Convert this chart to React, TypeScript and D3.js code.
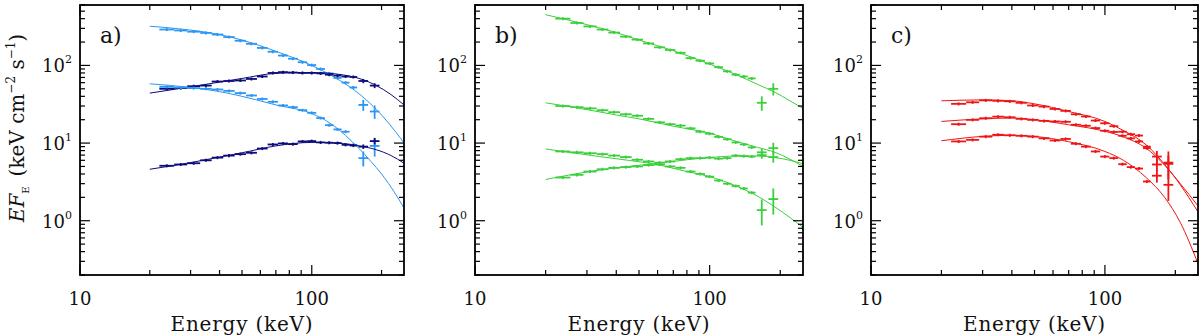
import React from 'react';
import * as d3 from 'd3';

// canvas + frame geometry
const W = 1200;
const H = 336;
const PLOT_TOP = 5;
const PLOT_BOTTOM = 275;
const PANEL_LEFT = [80, 475, 871];
const PANEL_RIGHT = [404, 803, 1198];
const PANEL_NAMES = ['a)', 'b)', 'c)'];

const X_DOMAIN = [10, 250];
const Y_DOMAIN = [0.2, 600];

// energy bins (keV) shared by all spectra, plus the two wide high-energy bins
const BIN_EDGES = [22, 25.5, 29, 33, 37, 41.5, 46.5, 52, 58, 64.5, 71.5, 79, 87, 95.5, 104.5, 114, 124, 134.5, 145.5, 157];
const HI_EDGES = [[159, 175], [178, 196]];
const BIN_ERR = 0.045; // relative flux error of the narrow bins

const LIGHT_BLUE = '#2b97f2';
const NAVY = '#0c0c7a';
const GREEN = '#3ccf3c';
const RED = '#f01414';

// ---- panel a ----
const a1Model = [[20, 320], [30, 285], [40, 250], [50, 212], [70, 152], [100, 100], [130, 66], [150, 50], [170, 37], [200, 23], [230, 14], [250, 10]];
const a1Bins = [290, 282, 272, 262, 250, 232, 208, 190, 168, 150, 134, 122, 110, 101, 90, 79, 69, 60, 52];
const a1Hi = [[31, 5], [25.5, 5]];

const a2Model = [[20, 44], [30, 53], [40, 61], [50, 68], [70, 79], [100, 81], [130, 77], [160, 68], [190, 55], [220, 42], [250, 31]];
const a2Bins = [50, 51, 54, 55, 62, 63, 64, 67, 72, 80, 82, 81, 80, 80, 79, 76, 74, 72, 71];
const a2Hi = [[63, 4], [55, 4]];

const a3Model = [[20, 58], [30, 52], [40, 46], [50, 40], [70, 31], [100, 24], [120, 18], [140, 12.5], [160, 8.5], [180, 5.8], [200, 4], [230, 2.2], [250, 1.46]];
const a3Bins = [53, 52, 51, 50, 49, 47, 44, 41, 37, 34, 30.5, 29, 26.5, 24.5, 21, 17, 15, 14, 9.5];
const a3Hi = [[6.4, 1.4], [9.2, 2.5]];

const a4Model = [[20, 4.6], [30, 5.6], [40, 6.6], [50, 7.5], [70, 9.2], [100, 10.2], [130, 10], [160, 9.2], [190, 8.2], [220, 6.9], [250, 5.5]];
const a4Bins = [5.1, 5.3, 5.5, 6.0, 6.5, 6.9, 7.2, 7.5, 8.5, 9.6, 9.9, 9.7, 10.5, 10.6, 10.2, 10.1, 10.0, 9.5, 9.3];
const a4Hi = [[9.0, 0.6], [10.6, 1.0]];

// ---- panel b ----
const b1Model = [[20, 450], [30, 335], [40, 265], [50, 212], [70, 155], [100, 104], [130, 76], [160, 57], [190, 45], [220, 35], [250, 28]];
const b1Bins = [400, 352, 318, 290, 265, 235, 215, 192, 171, 158, 145, 124, 115, 106, 95, 84, 76, 72, 68];
const b1Hi = [[33, 7], [50, 9]];

const b2Model = [[20, 33], [30, 27], [40, 23], [50, 20.5], [70, 16.5], [100, 13.4], [130, 10.5], [160, 8.8], [190, 7.6], [220, 6.2], [250, 5.0]];
const b2Bins = [30, 29, 28, 26.5, 25, 23.5, 22.5, 20.5, 18.5, 17.5, 16.8, 15.5, 14, 13.2, 12, 11.2, 10.2, 9.6, 8.8];
const b2Hi = [[7.6, 0.8], [8.6, 1.5]];

const b3Model = [[20, 8.4], [34, 6.7], [45, 6.0], [57.5, 5.4], [80, 4.3], [100, 3.7], [126, 2.9], [150, 2.3], [190, 1.5], [220, 1.1], [250, 0.82]];
const b3Bins = [7.8, 7.6, 7.4, 7.2, 6.9, 6.6, 6.1, 5.8, 5.3, 5.0, 4.8, 4.3, 4.0, 3.7, 3.3, 3.0, 2.8, 2.6, 2.3];
const b3Hi = [[1.37, 0.5], [1.9, 0.7]];

const b4Model = [[20, 3.4], [34, 4.5], [45, 5.0], [57.5, 5.4], [80, 6.1], [100, 6.5], [130, 6.8], [160, 6.8], [190, 6.5], [220, 6.0], [250, 5.4]];
const b4Bins = [3.6, 3.9, 4.3, 4.6, 4.8, 4.9, 5.0, 5.2, 5.6, 5.8, 6.2, 6.4, 6.4, 6.5, 6.3, 6.4, 6.9, 6.8, 6.7];
const b4Hi = [[7.0, 0.7], [6.6, 1.0]];

// ---- panel c ----
const c1Model = [[20, 35], [30, 36], [40, 35], [50, 32], [70, 25.5], [100, 19], [120, 14.5], [150, 9.5], [180, 5.3], [210, 2.9], [250, 1.3]];
const c1Bins = [32, 33.5, 35.5, 35, 34.5, 33, 30.5, 29.5, 27.5, 26, 23.5, 22, 19.5, 18, 16.5, 14, 13, 12.5, 9.0];
const c1Hi = [[6.7, 1.2], [5.6, 2.2]];

const c2Model = [[20, 19], [30, 20.5], [40, 21], [50, 20], [70, 17.2], [100, 14.2], [120, 12], [150, 8.6], [180, 5.2], [210, 3.0], [250, 1.55]];
const c2Bins = [17.5, 19.9, 20.9, 21.9, 21.5, 20.5, 19.9, 19.3, 19.0, 18.8, 17.2, 16.7, 15.6, 14.4, 13.9, 12.4, 11.5, 10.5, 8.6];
const c2Hi = [[5.3, 0.9], [5.4, 1.5]];

const c3Model = [[20, 10.7], [30, 12.2], [40, 12.6], [50, 12.2], [70, 10.4], [100, 7.8], [120, 6.0], [150, 3.6], [180, 2.0], [210, 0.95], [250, 0.28]];
const c3Bins = [10.5, 11.0, 12.1, 12.8, 12.6, 12.4, 12.1, 11.5, 10.8, 11.3, 9.8, 9.0, 7.8, 6.7, 6.4, 5.35, 4.9, 4.7, 3.2];
const c3Hi = [[3.8, 0.7], [2.9, 1.1]];

const PANELS = [
  [
    { color: LIGHT_BLUE, model: a1Model, bins: a1Bins, hi: a1Hi },
    { color: NAVY, model: a2Model, bins: a2Bins, hi: a2Hi },
    { color: LIGHT_BLUE, model: a3Model, bins: a3Bins, hi: a3Hi },
    { color: NAVY, model: a4Model, bins: a4Bins, hi: a4Hi },
  ],
  [
    { color: GREEN, model: b1Model, bins: b1Bins, hi: b1Hi },
    { color: GREEN, model: b2Model, bins: b2Bins, hi: b2Hi },
    { color: GREEN, model: b3Model, bins: b3Bins, hi: b3Hi },
    { color: GREEN, model: b4Model, bins: b4Bins, hi: b4Hi },
  ],
  [
    { color: RED, model: c1Model, bins: c1Bins, hi: c1Hi },
    { color: RED, model: c2Model, bins: c2Bins, hi: c2Hi },
    { color: RED, model: c3Model, bins: c3Bins, hi: c3Hi },
  ],
];

const FONT = "'DejaVu Serif', 'Liberation Serif', serif";

const isDecade = (v: number) => Math.abs(Math.log10(v) - Math.round(Math.log10(v))) < 1e-6;

function Panel({ idx }: { idx: number }) {
  const left = PANEL_LEFT[idx];
  const right = PANEL_RIGHT[idx];
  const x = d3.scaleLog().domain(X_DOMAIN).range([left, right]);
  const y = d3.scaleLog().domain(Y_DOMAIN).range([PLOT_BOTTOM, PLOT_TOP]);
  const line = d3.line<number[]>()
    .x(d => x(d[0]))
    .y(d => y(d[1]))
    .curve(d3.curveMonotoneX);
  const clipId = `clip-${idx}`;
  const xTicks = x.ticks();
  const yTicks = y.ticks();

  return (
    <g>
      <defs>
        <clipPath id={clipId}>
          <rect x={left} y={PLOT_TOP} width={right - left} height={PLOT_BOTTOM - PLOT_TOP} />
        </clipPath>
      </defs>

      <g clipPath={`url(#${clipId})`}>
        {PANELS[idx].map((s, si) => (
          <g key={si} stroke={s.color} fill="none">
            <path d={line(s.model) || ''} strokeWidth={1} />
            {s.bins.map((f, bi) => {
              const xc = x(Math.sqrt(BIN_EDGES[bi] * BIN_EDGES[bi + 1]));
              return (
                <g key={bi} strokeWidth={1.8}>
                  <line x1={x(BIN_EDGES[bi])} x2={x(BIN_EDGES[bi + 1])} y1={y(f)} y2={y(f)} />
                  <line x1={xc} x2={xc} y1={y(f * (1 + BIN_ERR))} y2={y(f * (1 - BIN_ERR))} />
                </g>
              );
            })}
            {s.hi.map(([f, err], hi) => {
              const [lo, up] = HI_EDGES[hi];
              const xc = x(Math.sqrt(lo * up));
              return (
                <g key={'h' + hi} strokeWidth={1.8}>
                  <line x1={x(lo)} x2={x(up)} y1={y(f)} y2={y(f)} />
                  <line x1={xc} x2={xc} y1={y(f + err)} y2={y(f - err)} />
                </g>
              );
            })}
          </g>
        ))}
      </g>

      {/* ticks, inward on all four sides */}
      <g stroke="#000" strokeWidth={1.2}>
        {xTicks.map((t, i) => {
          const len = isDecade(t) ? 10 : 5;
          return (
            <g key={'x' + i}>
              <line x1={x(t)} x2={x(t)} y1={PLOT_BOTTOM} y2={PLOT_BOTTOM - len} />
              <line x1={x(t)} x2={x(t)} y1={PLOT_TOP} y2={PLOT_TOP + len} />
            </g>
          );
        })}
        {yTicks.map((t, i) => {
          const len = isDecade(t) ? 10 : 5;
          return (
            <g key={'y' + i}>
              <line x1={left} x2={left + len} y1={y(t)} y2={y(t)} />
              <line x1={right} x2={right - len} y1={y(t)} y2={y(t)} />
            </g>
          );
        })}
      </g>
      <rect x={left} y={PLOT_TOP} width={right - left} height={PLOT_BOTTOM - PLOT_TOP}
        fill="none" stroke="#000" strokeWidth={1.8} />

      {/* tick labels */}
      <g fontFamily={FONT} fill="#111">
        {xTicks.filter(isDecade).map((t, i) => (
          <text key={'xl' + i} x={x(t)} y={305} fontSize={18} textAnchor="middle">{d3.format('d')(t)}</text>
        ))}
        {yTicks.filter(isDecade).map((t, i) => (
          <text key={'yl' + i} x={left - 8} y={y(t) + 7} fontSize={18} textAnchor="end">
            10<tspan fontSize={11} dy={-9}>{Math.round(Math.log10(t))}</tspan>
          </text>
        ))}
        <text x={(left + right) / 2} y={331} fontSize={20} textAnchor="middle" letterSpacing={0.8}>Energy (keV)</text>
        <text x={left + 20} y={43} fontSize={22}>{PANEL_NAMES[idx]}</text>
      </g>
    </g>
  );
}

export default function App() {
  return (
    <svg width={W} height={H} style={{ position: 'absolute', left: 0, top: 0, background: '#fff' }}>
      <rect width={W} height={H} fill="#fff" />
      {PANEL_LEFT.map((_, i) => <Panel key={i} idx={i} />)}
      <text transform="translate(24,128) rotate(-90)" fontFamily={FONT} fontSize={20} fill="#111" textAnchor="middle">
        <tspan fontStyle="italic">EF</tspan>
        <tspan fontSize={10} dy={5}>E</tspan>
        <tspan dy={-5}>{'\u2002(keV cm'}</tspan>
        <tspan fontSize={12} dy={-9}>{'\u22122'}</tspan>
        <tspan dy={9}> s</tspan>
        <tspan fontSize={12} dy={-9}>{'\u22121'}</tspan>
        <tspan dy={9}>)</tspan>
      </text>
    </svg>
  );
}
